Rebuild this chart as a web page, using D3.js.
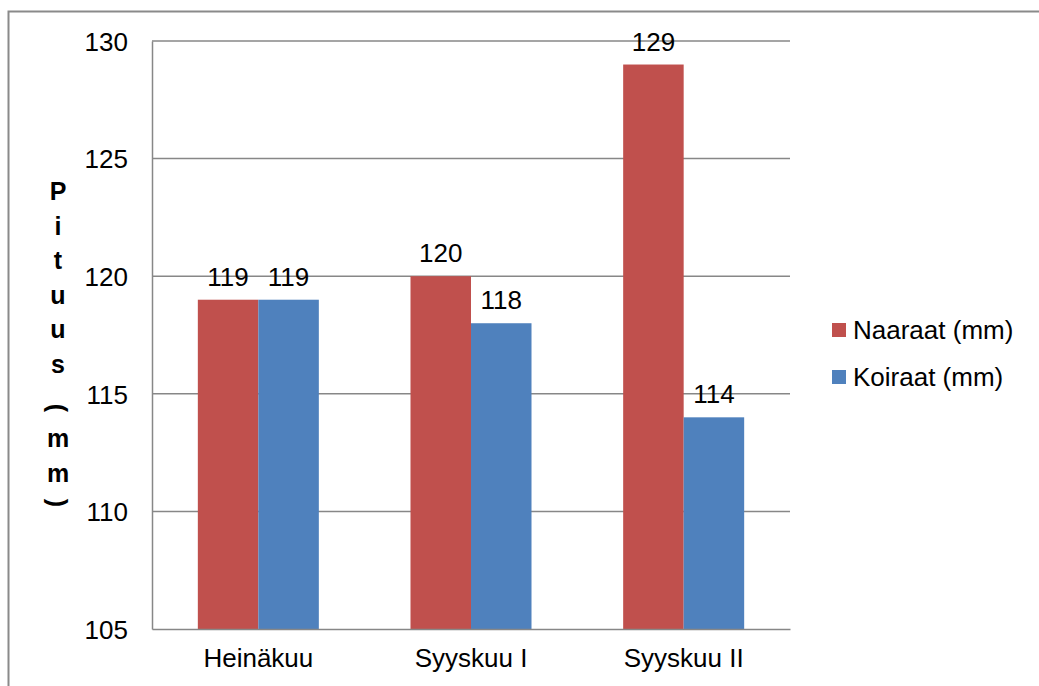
<!DOCTYPE html>
<html>
<head>
<meta charset="utf-8">
<script src="https://cdn.jsdelivr.net/npm/d3@7"></script>
<style>
  html, body { margin: 0; padding: 0; background: #fff; }
  svg { display: block; }
  text { font-family: "Liberation Sans", Arial, sans-serif; fill: #000; }
</style>
</head>
<body>
<svg id="chart" width="1039" height="686"></svg>
<script>
// Body length by sampling period
const categories = ["Heinäkuu", "Syyskuu I", "Syyskuu II"];
const seriesNames = ["Naaraat (mm)", "Koiraat (mm)"];
const naaraat = [119, 120, 129];
const koiraat = [119, 118, 114];
const yTicks = [105, 110, 115, 120, 125, 130];
const yTitle = "Pituus (mm)";
const colors = ["#C0504D", "#4F81BD"];

const seriesValues = [naaraat, koiraat];
const svg = d3.select("#chart");

// Chart frame
svg.append("rect")
  .attr("x", 8.5).attr("y", 11.5)
  .attr("width", 1200).attr("height", 900)
  .attr("fill", "none").attr("stroke", "#8a8a8a").attr("stroke-width", 2);

const plot = { left: 152, right: 790, top: 41, bottom: 629 };

const x = d3.scaleBand()
  .domain(categories)
  .range([plot.left, plot.right])
  .paddingInner(0.431)
  .paddingOuter(0.2155);

const xInner = d3.scaleBand()
  .domain(seriesNames)
  .range([0, x.bandwidth()]);

const y = d3.scaleLinear()
  .domain([105, 130])
  .range([plot.bottom, plot.top]);

// Horizontal gridlines
svg.append("g")
  .selectAll("line")
  .data(yTicks.slice(1))
  .join("line")
  .attr("x1", plot.left).attr("x2", plot.right)
  .attr("y1", d => y(d)).attr("y2", d => y(d))
  .attr("stroke", "#878787").attr("stroke-width", 1.5);

// Y axis with tick labels
const yAxis = svg.append("g")
  .attr("transform", `translate(${plot.left},0)`)
  .call(d3.axisLeft(y).tickValues(yTicks).tickSize(0).tickPadding(24));
yAxis.select(".domain").attr("stroke", "#878787").attr("stroke-width", 1.5);
yAxis.selectAll("text")
  .attr("font-size", 26)
  .attr("font-family", "Liberation Sans, Arial, sans-serif")
  .attr("fill", "#000")
  .attr("dy", "0.36em");

// Bars
const groups = svg.append("g")
  .selectAll("g")
  .data(seriesNames.map((name, i) => ({ name, color: colors[i], values: seriesValues[i] })))
  .join("g")
  .attr("fill", d => d.color);

groups.selectAll("rect")
  .data(d => d.values.map((v, j) => ({ name: d.name, cat: categories[j], value: v })))
  .join("rect")
  .attr("x", d => x(d.cat) + xInner(d.name))
  .attr("y", d => y(d.value))
  .attr("width", xInner.bandwidth())
  .attr("height", d => y(105) - y(d.value));

// Value labels
groups.selectAll("text")
  .data(d => d.values.map((v, j) => ({ name: d.name, cat: categories[j], value: v })))
  .join("text")
  .attr("x", d => x(d.cat) + xInner(d.name) + xInner.bandwidth() / 2)
  .attr("y", d => y(d.value) - 14)
  .attr("text-anchor", "middle")
  .attr("font-size", 26)
  .text(d => d.value);

// X axis baseline and category labels
const xAxis = svg.append("g")
  .attr("transform", `translate(0,${plot.bottom})`)
  .call(d3.axisBottom(x).tickSize(0).tickPadding(20));
xAxis.select(".domain").attr("stroke", "#878787").attr("stroke-width", 1.5);
xAxis.selectAll("text")
  .attr("font-size", 26)
  .attr("font-family", "Liberation Sans, Arial, sans-serif")
  .attr("fill", "#000");

// Stacked y-axis title, one character per line; parentheses turned sideways
const titleChars = yTitle.replace(/ /g, "").split("");
let cy = 191;
const title = svg.append("g").attr("font-weight", "bold").attr("font-size", 25);
titleChars.forEach((ch) => {
  const isParen = ch === "(" || ch === ")";
  if (isParen) cy += (ch === "(" ? 10 : -4);
  const t = title.append("text")
    .attr("text-anchor", "middle")
    .attr("dominant-baseline", "central")
    .text(ch);
  if (isParen) {
    t.attr("transform", `translate(58,${cy}) rotate(90)`);
  } else {
    t.attr("x", 58).attr("y", cy);
  }
  cy += isParen ? (ch === "(" ? 30 : 0) : 34.5;
});

// Legend
const legend = svg.append("g")
  .selectAll("g")
  .data(seriesNames)
  .join("g")
  .attr("transform", (d, i) => `translate(832,${323 + i * 47})`);
legend.append("rect")
  .attr("width", 14).attr("height", 14)
  .attr("fill", (d, i) => colors[i]);
legend.append("text")
  .attr("x", 21).attr("y", 7)
  .attr("dy", "0.36em")
  .attr("font-size", 26)
  .text(d => d);
</script>
</body>
</html>
